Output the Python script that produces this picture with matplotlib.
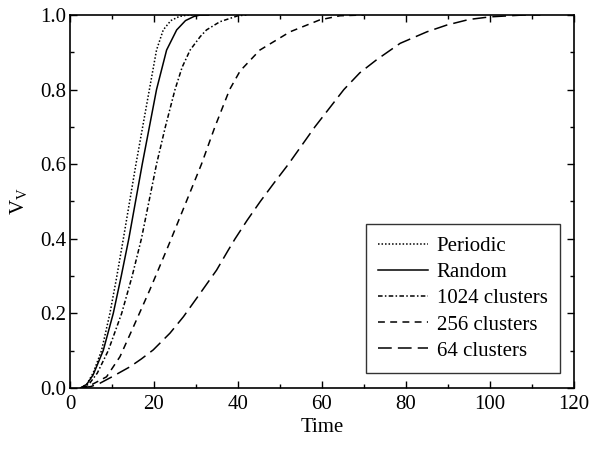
import matplotlib
matplotlib.use("Agg")
import matplotlib.pyplot as plt
from matplotlib.ticker import MultipleLocator, FormatStrFormatter

# values (time, volume fraction)
t_periodic = [2.5, 4, 5.5, 7.5, 9.5, 11, 12.7, 14.2, 15.7, 17.3, 18.9, 20.6, 22.2, 24, 26, 28, 30]
v_periodic = [0, 0.01, 0.04, 0.1, 0.2, 0.29, 0.4, 0.5, 0.6, 0.7, 0.8, 0.906, 0.96, 0.985, 0.996, 1.0, 1.0]

t_random = [2.5, 4, 5.5, 7.9, 10.3, 12.2, 14.0, 15.6, 17.2, 18.9, 20.6, 23, 25.4, 27.5, 29.5, 31, 33]
v_random = [0, 0.01, 0.035, 0.1, 0.2, 0.3, 0.4, 0.5, 0.6, 0.7, 0.8, 0.906, 0.96, 0.985, 0.996, 1.0, 1.0]

t_1024 = [2.5, 4.5, 6.5, 9.1, 12.3, 14.8, 17.0, 18.8, 20.6, 22.7, 25, 26.7, 28.6, 31, 32.5, 35.7, 40, 42]
v_1024 = [0, 0.01, 0.04, 0.1, 0.2, 0.3, 0.4, 0.5, 0.6, 0.7, 0.8, 0.86, 0.906, 0.942, 0.96, 0.982, 0.998, 1.0]

t_256 = [2.5, 5, 8.7, 11.9, 15.1, 19, 23, 24.1, 27.7, 31.3, 34.5, 38.0, 40.5, 45.2, 52.4, 59.5, 64.3, 70]
v_256 = [0, 0.008, 0.03, 0.084, 0.164, 0.263, 0.37, 0.4, 0.5, 0.6, 0.7, 0.8, 0.85, 0.906, 0.955, 0.987,
         0.998, 1.0]

t_64 = [2.5, 5, 7.1, 10, 14.3, 17, 19.8, 23.8, 27, 31, 34.9, 37.7, 39.3, 42.2, 45.3, 48.6, 52, 58.3, 65.2,
        69, 73, 78.6, 85, 89.7, 95, 100, 108, 112]
v_64 = [0, 0.004, 0.0126, 0.03, 0.057, 0.078, 0.102, 0.147, 0.191, 0.254, 0.316, 0.37, 0.4, 0.45, 0.5,
        0.55, 0.6, 0.7, 0.8, 0.845, 0.88, 0.924, 0.955, 0.973, 0.988, 0.995, 1.0, 1.0]

labels = ["Periodic", "Random", "1024 clusters", "256 clusters", "64 clusters"]

plt.rcParams["font.family"] = ["Liberation Serif", "DejaVu Serif"]
plt.rcParams["mathtext.fontset"] = "custom"
plt.rcParams["mathtext.rm"] = "Liberation Serif"
plt.rcParams["mathtext.it"] = "Liberation Serif:italic"

fs = 15
fig = plt.figure(figsize=(5.9, 4.49), dpi=100)
ax = fig.add_axes([70 / 590, 61 / 449, 504 / 590, 373 / 449])

lw = 1.1
ax.plot(t_periodic, v_periodic, color="black", lw=lw, ls=(0, (1, 1.3)), label=labels[0])
ax.plot(t_random, v_random, color="black", lw=lw, ls="-", label=labels[1])
ax.plot(t_1024, v_1024, color="black", lw=lw, ls=(0, (3, 1.5, 1, 1.5)), label=labels[2])
ax.plot(t_256, v_256, color="black", lw=lw, ls=(0, (4.5, 3.5)), label=labels[3])
ax.plot(t_64, v_64, color="black", lw=lw, ls=(0, (9, 4)), label=labels[4])

ax.set_xlim(0, 120)
ax.set_ylim(0, 1.0)
ax.xaxis.set_major_locator(MultipleLocator(20))
ax.xaxis.set_minor_locator(MultipleLocator(10))
ax.yaxis.set_major_locator(MultipleLocator(0.2))
ax.yaxis.set_minor_locator(MultipleLocator(0.1))
ax.yaxis.set_major_formatter(FormatStrFormatter("%.1f"))
ax.tick_params(which="both", direction="in", top=True, right=True, labelsize=fs, width=1.0)
ax.tick_params(which="major", length=5)
ax.tick_params(which="minor", length=3)
ax.tick_params(axis="x", which="major", pad=5)
ax.tick_params(axis="y", which="major", pad=2.5)
for s in ax.spines.values():
    s.set_linewidth(1.2)

ax.set_xlabel("Time", fontsize=fs, labelpad=3)
ax.set_ylabel(r"V$_\mathrm{V}$", fontsize=fs, labelpad=8)

leg = ax.legend(loc="lower right", bbox_to_anchor=(0.972, 0.04), fontsize=fs, frameon=True,
                fancybox=False, edgecolor="black", handlelength=2.4, handletextpad=0.4,
                labelspacing=0.31, borderpad=0.6, borderaxespad=0)
leg.get_frame().set_linewidth(1.0)

fig.savefig("out.png", dpi=100)
